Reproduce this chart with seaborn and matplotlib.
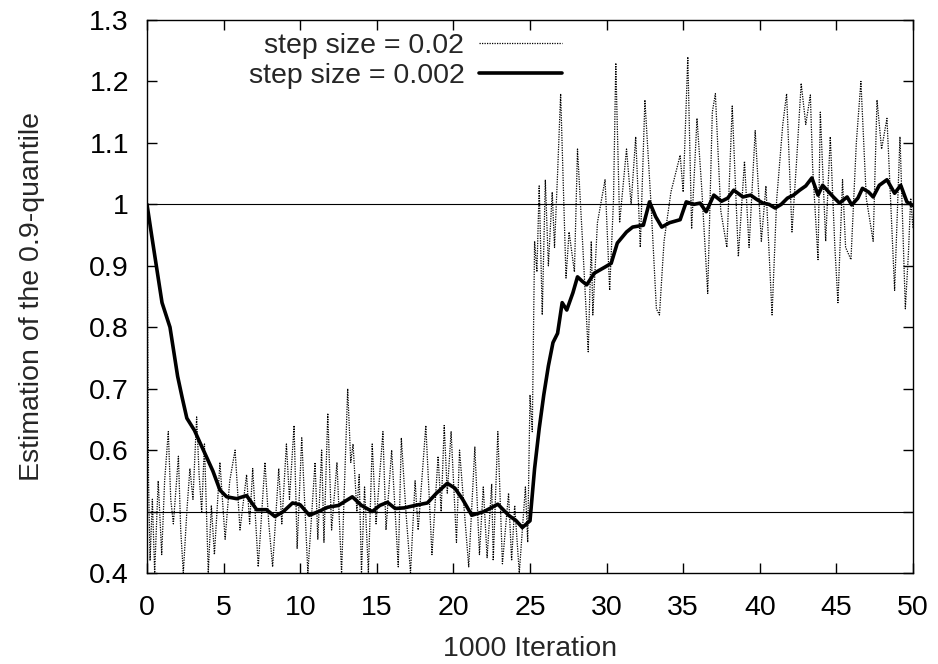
import matplotlib
matplotlib.use("Agg")
import matplotlib.pyplot as plt
import seaborn as sns
import pandas as pd

# ---- data ----
smooth_x = [0, 0.3, 0.72, 0.98, 1.5, 2.0, 2.3, 2.6, 3.1, 3.46, 3.9, 4.3, 4.76, 5.2, 5.85, 6.5,
            7.16, 7.8, 8.35, 8.9, 9.5, 10.0, 10.6, 11.2, 11.8, 12.5, 13.4, 14.0, 14.7, 15.2,
            15.7, 16.2, 16.8, 17.5, 18.3, 18.9, 19.6, 20.1, 20.6, 21.2, 22.0, 22.9, 23.6,
            24.1, 24.5, 25.0, 25.3, 25.6, 25.9, 26.2, 26.5, 26.8, 27.1, 27.4, 27.8, 28.1,
            28.4, 28.7, 29.2, 29.9, 30.3, 30.7, 31.3, 31.7, 32.4, 32.8, 33.2, 33.6, 34.1,
            34.8, 35.2, 35.7, 36.1, 36.5, 37.0, 37.5, 37.9, 38.3, 38.9, 39.4, 39.8, 40.2,
            40.6, 41.0, 41.4, 41.8, 42.2, 42.6, 43.0, 43.4, 43.8, 44.1, 44.8, 45.2, 45.7,
            46.0, 46.4, 46.7, 47.1, 47.4, 47.8, 48.3, 48.8, 49.2, 49.6, 50.0]
smooth_y = [1.0, 0.95, 0.882, 0.84, 0.80, 0.72, 0.685, 0.652, 0.632, 0.612, 0.588, 0.566,
            0.535, 0.524, 0.521, 0.526, 0.503, 0.503, 0.492, 0.50, 0.514, 0.511, 0.494,
            0.50, 0.507, 0.51, 0.524, 0.51, 0.50, 0.51, 0.515, 0.505, 0.506, 0.51, 0.514,
            0.53, 0.546, 0.538, 0.52, 0.494, 0.50, 0.512, 0.494, 0.485, 0.474, 0.485, 0.57,
            0.635, 0.69, 0.737, 0.775, 0.79, 0.84, 0.828, 0.856, 0.882, 0.875, 0.869, 0.888,
            0.898, 0.904, 0.937, 0.955, 0.963, 0.966, 1.004, 0.98, 0.963, 0.970, 0.975,
            1.004, 1.0, 1.002, 0.988, 1.015, 1.005, 1.01, 1.023, 1.012, 1.015, 1.008, 1.002,
            1.0, 0.994, 1.0, 1.01, 1.015, 1.023, 1.03, 1.043, 1.015, 1.031, 1.012, 1.002,
            1.012, 0.999, 1.01, 1.026, 1.02, 1.012, 1.031, 1.04, 1.018, 1.031, 1.004, 0.998]

noisy_x = [0, 0.1, 0.2, 0.35, 0.5, 0.73, 0.96, 1.15, 1.39, 1.55, 1.72, 2.05, 2.2, 2.37, 2.6,
           2.8, 3.0, 3.24, 3.4, 3.57, 3.75, 4.0, 4.2, 4.4, 4.76, 5.1, 5.4, 5.75, 6.07, 6.5,
           6.7, 6.9, 7.26, 7.7, 7.95, 8.2, 8.6, 8.8, 9.1, 9.3, 9.6, 9.8, 10.1, 10.5, 10.97,
           11.15, 11.4, 11.55, 11.8, 12.05, 12.4, 12.7, 13.1, 13.3, 13.45, 13.7, 13.85, 14.0,
           14.2, 14.45, 14.7, 14.95, 15.4, 15.6, 15.97, 16.4, 16.6, 16.9, 17.2, 17.5, 17.7,
           18.2, 18.6, 19.0, 19.2, 19.4, 19.6, 19.85, 20.2, 20.4, 21.0, 21.4, 21.7, 21.95,
           22.2, 22.5, 22.6, 22.9, 23.2, 23.6, 23.8, 24.0, 24.3, 24.7, 24.85, 25.0, 25.15,
           25.3, 25.45, 25.6, 25.8, 26.0, 26.2, 26.45, 26.6, 26.8, 27.0, 27.35, 27.55, 27.9,
           28.1, 28.45, 28.8, 29.0, 29.1, 29.4, 29.9, 30.2, 30.45, 30.6, 30.85, 31.3, 31.6,
           31.9, 32.2, 32.5, 32.9, 33.25, 33.45, 33.75, 34.2, 34.8, 35.0, 35.3, 35.55, 35.9,
           36.2, 36.6, 36.9, 37.1, 37.45, 37.85, 38.2, 38.6, 39.0, 39.3, 39.7, 40.1, 40.4,
           40.8, 41.1, 41.5, 41.75, 42.1, 42.4, 42.7, 43.0, 43.3, 43.45, 43.8, 43.95, 44.3,
           44.6, 44.9, 45.1, 45.4, 45.6, 45.95, 46.3, 46.6, 46.95, 47.4, 47.65, 47.95, 48.3,
           48.8, 49.15, 49.5, 49.7, 49.85, 50.0]
noisy_y = [1.0, 0.55, 0.42, 0.52, 0.40, 0.55, 0.43, 0.55, 0.63, 0.52, 0.48, 0.59, 0.47, 0.40,
           0.50, 0.57, 0.52, 0.654, 0.56, 0.50, 0.61, 0.40, 0.51, 0.43, 0.58, 0.455, 0.55,
           0.60, 0.47, 0.56, 0.48, 0.57, 0.41, 0.58, 0.48, 0.41, 0.57, 0.48, 0.61, 0.52, 0.64,
           0.44, 0.62, 0.40, 0.58, 0.455, 0.60, 0.45, 0.66, 0.47, 0.58, 0.40, 0.70, 0.58,
           0.61, 0.50, 0.56, 0.40, 0.54, 0.40, 0.61, 0.48, 0.63, 0.47, 0.60, 0.41, 0.62, 0.50,
           0.40, 0.55, 0.47, 0.64, 0.43, 0.59, 0.50, 0.64, 0.53, 0.63, 0.45, 0.60, 0.41,
           0.605, 0.43, 0.54, 0.425, 0.545, 0.42, 0.63, 0.415, 0.53, 0.42, 0.51, 0.40, 0.54,
           0.45, 0.69, 0.63, 0.94, 0.89, 1.03, 0.82, 1.04, 0.90, 1.02, 0.93, 1.05, 1.18, 0.88,
           0.955, 0.89, 1.09, 0.93, 0.76, 0.94, 0.82, 0.97, 1.04, 0.86, 1.007, 1.23, 0.97,
           1.09, 1.0, 1.11, 0.93, 1.17, 1.0, 0.83, 0.82, 0.94, 1.02, 1.08, 1.02, 1.24, 0.96,
           1.14, 1.03, 0.855, 1.15, 1.18, 0.99, 0.93, 1.16, 0.915, 1.07, 0.93, 1.12, 0.94,
           1.03, 0.82, 1.007, 1.13, 1.18, 0.955, 1.07, 1.197, 1.13, 1.178, 1.06, 0.91, 1.15,
           0.94, 1.11, 0.93, 0.84, 1.04, 0.93, 0.91, 1.10, 1.2, 1.01, 0.94, 1.17, 1.09, 1.14,
           0.86, 1.11, 0.83, 0.92, 1.01, 0.96]

ref_levels = [1.0, 0.5]
x_ticks = [0, 5, 10, 15, 20, 25, 30, 35, 40, 45, 50]
y_ticks = [0.4, 0.5, 0.6, 0.7, 0.8, 0.9, 1.0, 1.1, 1.2, 1.3]
y_ticklabels = ["0.4", "0.5", "0.6", "0.7", "0.8", "0.9", "1", "1.1", "1.2", "1.3"]
labels = ["step size = 0.02", "step size = 0.002"]

# ---- style ----
sns.set_style("ticks")
plt.rcParams["font.family"] = ["Liberation Sans", "DejaVu Sans"]
FS = 20.5
plt.rcParams["font.size"] = FS

fig = plt.figure(figsize=(9.38, 6.64), dpi=100)
ax = fig.add_axes([147 / 938, 1 - 573 / 664, (913 - 147) / 938, (573 - 20) / 664])

df_noisy = pd.DataFrame({"x": noisy_x, "y": noisy_y})
df_smooth = pd.DataFrame({"x": smooth_x, "y": smooth_y})

for lvl in ref_levels:
    ax.axhline(lvl, color="black", lw=0.8, zorder=1)

sns.lineplot(data=df_noisy, x="x", y="y", ax=ax, color="black", lw=0.9,
             linestyle=(0, (1, 1)), label=labels[0], sort=False, zorder=2)
sns.lineplot(data=df_smooth, x="x", y="y", ax=ax, color="black", lw=2.6,
             label=labels[1], sort=False, zorder=3)

ax.set_xlim(0, 50)
ax.set_ylim(0.4, 1.3)
ax.set_xticks(x_ticks)
ax.set_yticks(y_ticks)
ax.set_yticklabels(y_ticklabels)
ax.tick_params(direction="in", length=7, width=1, top=True, right=True,
               labelsize=FS, colors="black")
ax.tick_params(axis="x", pad=16)
ax.tick_params(axis="y", pad=13)
for s in ax.spines.values():
    s.set_visible(True)
    s.set_linewidth(1.0)
    s.set_color("black")

ax.set_xlabel("1000 Iteration", fontsize=FS, labelpad=11)
ax.set_ylabel("Estimation of the 0.9-quantile", fontsize=FS, labelpad=32)

leg = ax.legend(loc="upper right", bbox_to_anchor=(0.5418, 0.9766), frameon=False,
                markerfirst=False, handlelength=2.9, fontsize=FS, labelspacing=0.15,
                borderaxespad=0.0, borderpad=0.0, handletextpad=0.53)

fig.savefig("out.png", dpi=100)
